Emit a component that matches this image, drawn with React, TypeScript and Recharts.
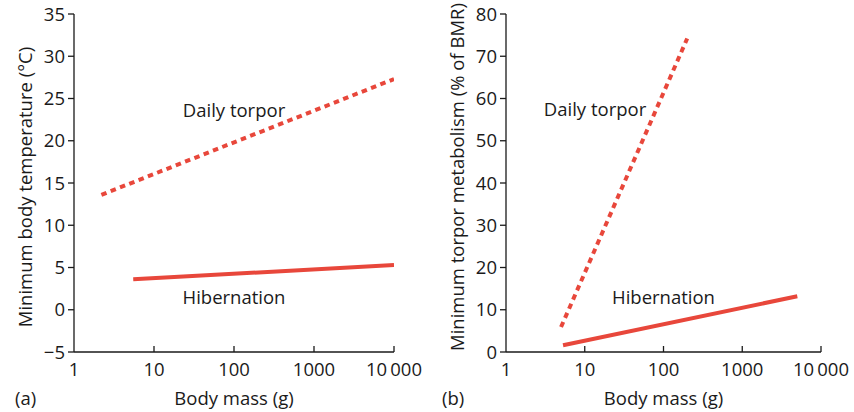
import { LineChart, Line, XAxis, YAxis, ReferenceDot, Label } from 'recharts'

// body mass (g) vs minimum body temperature (°C)
const tempTorpor = [
  { mass: 2.2, value: 13.6 },
  { mass: 10000, value: 27.3 },
]
const tempHibernation = [
  { mass: 5.5, value: 3.6 },
  { mass: 10000, value: 5.3 },
]

// body mass (g) vs minimum torpor metabolism (% of BMR)
const metTorpor = [
  { mass: 5, value: 5.9 },
  { mass: 200, value: 74.2 },
]
const metHibernation = [
  { mass: 5.3, value: 1.6 },
  { mass: 5000, value: 13.2 },
]

const massTicks = [1, 10, 100, 1000, 10000]
const tempTicks = [-5, 0, 5, 10, 15, 20, 25, 30, 35]
const metTicks = [0, 10, 20, 30, 40, 50, 60, 70, 80]

const RED = '#e8473b'
const FONT = '"Open Sans", "Noto Sans", sans-serif'
const INK = '#1a1a1a'
const FS = 18.5

const fmtMass = (v: number) => (v === 10000 ? '10\u2009000' : String(v))
const fmtY = (v: number) => String(v).replace('-', '\u2212')

// x ticks point up into the plot, labels below
function MassTick(props: any) {
  const { x, y, payload } = props
  const axisY = y - 4
  return (
    <g>
      {payload.value !== 1 && (
        <line x1={x} y1={axisY} x2={x} y2={axisY - 6} stroke={INK} strokeWidth={1.3} />
      )}
      <text x={x} y={axisY + 24} textAnchor="middle" fontSize={FS} fill={INK} fontFamily={FONT}>
        {fmtMass(payload.value)}
      </text>
    </g>
  )
}

interface PanelProps {
  torpor: { mass: number; value: number }[]
  hibernation: { mass: number; value: number }[]
  yTicks: number[]
  yDomain: [number, number]
  yLabel: string
  yLabelDy: number
  tag: string
  marginLeft: number
  torporAt: [number, number]
  hibAt: [number, number]
}

function Panel(p: PanelProps) {
  const labelStyle = { fontSize: FS, fill: INK, fontFamily: FONT }
  return (
    <LineChart
      width={427}
      height={412}
      margin={{ top: 14, right: 33, bottom: 0, left: p.marginLeft }}
    >
      <XAxis
        type="number"
        dataKey="mass"
        scale="log"
        domain={[1, 10000]}
        ticks={massTicks}
        allowDataOverflow
        height={60}
        tickLine={false}
        tickSize={0}
        tickMargin={4}
        tick={<MassTick />}
        axisLine={{ stroke: INK, strokeWidth: 1.3 }}
      >
        <Label value="Body mass (g)" position="insideBottom" offset={7} style={labelStyle} />
        <Label
          value={p.tag}
          position="insideBottomLeft"
          offset={7}
          dx={-(p.marginLeft + 60) + 8}
          style={labelStyle}
        />
      </XAxis>
      <YAxis
        type="number"
        domain={p.yDomain}
        ticks={p.yTicks}
        interval={0}
        width={60}
        tickSize={6}
        tickMargin={3}
        tickFormatter={fmtY}
        tick={{ fontSize: FS, fill: INK, fontFamily: FONT }}
        tickLine={{ stroke: INK, strokeWidth: 1.3 }}
        axisLine={{ stroke: INK, strokeWidth: 1.3 }}
      >
        <Label
          value={p.yLabel}
          angle={-90}
          position="center"
          dx={-19}
          dy={p.yLabelDy}
          style={{ ...labelStyle, fontSize: 18.5 }}
        />
      </YAxis>
      <Line
        data={p.torpor}
        dataKey="value"
        stroke={RED}
        strokeWidth={4}
        strokeDasharray="5.5 4.5"
        dot={false}
        isAnimationActive={false}
      />
      <Line
        data={p.hibernation}
        dataKey="value"
        stroke={RED}
        strokeWidth={4}
        dot={false}
        isAnimationActive={false}
      />
      <ReferenceDot
        x={p.torporAt[0]}
        y={p.torporAt[1]}
        r={0}
        fill="none"
        stroke="none"
        label={{ value: 'Daily torpor', position: 'center', ...labelStyle }}
      />
      <ReferenceDot
        x={p.hibAt[0]}
        y={p.hibAt[1]}
        r={0}
        fill="none"
        stroke="none"
        label={{ value: 'Hibernation', position: 'center', ...labelStyle }}
      />
    </LineChart>
  )
}

export default function App() {
  return (
    <div
      style={{
        position: 'absolute',
        left: 0,
        top: 0,
        width: 854,
        height: 412,
        background: '#fff',
        display: 'flex',
      }}
    >
      <Panel
        torpor={tempTorpor}
        hibernation={tempHibernation}
        yTicks={tempTicks}
        yDomain={[-5, 35]}
        yLabel="Minimum body temperature (°C)"
        yLabelDy={4}
        tag="(a)"
        marginLeft={14}
        torporAt={[100, 23.6]}
        hibAt={[100, 1.4]}
      />
      <Panel
        torpor={metTorpor}
        hibernation={metHibernation}
        yTicks={metTicks}
        yDomain={[0, 80]}
        yLabel="Minimum torpor metabolism (% of BMR)"
        yLabelDy={-6}
        tag="(b)"
        marginLeft={19}
        torporAt={[13.5, 57.4]}
        hibAt={[100, 12.9]}
      />
    </div>
  )
}
